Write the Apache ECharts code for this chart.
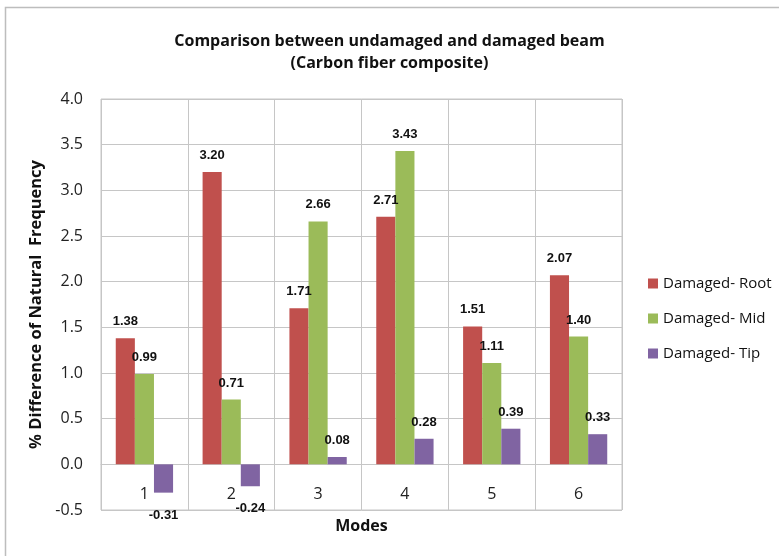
<!DOCTYPE html>
<html>
<head>
<meta charset="utf-8">
<title>Comparison between undamaged and damaged beam</title>
<script src="https://cdn.jsdelivr.net/npm/echarts@6/dist/echarts.min.js"></script>
<style>
  html, body { margin: 0; padding: 0; background: #ffffff; }
  #chart { width: 779px; height: 556px; }
</style>
</head>
<body>
<div id="chart"></div>
<script>
// Vibration modes on the category axis
const modes = ['1', '2', '3', '4', '5', '6'];

// Percentage difference of natural frequency for each damage location
const damagedRoot = [1.38, 3.20, 1.71, 2.71, 1.51, 2.07];
const damagedMid = [0.99, 0.71, 2.66, 3.43, 1.11, 1.40];
const damagedTip = [-0.31, -0.24, 0.08, 0.28, 0.39, 0.33];

// Value axis range and step
const yMin = -0.5;
const yMax = 4.0;
const yStep = 0.5;

const seriesNames = ['Damaged- Root', 'Damaged- Mid', 'Damaged- Tip'];
const seriesColors = ['#C0504D', '#9BBB59', '#8064A2'];

const gridColor = '#c6c6c6';
const baseFont = 'Open Sans';

// Value labels sit above positive bars and below negative ones
function withLabels(values) {
  return values.map(v => ({
    value: v,
    label: v < 0 ? { position: 'bottom', distance: 16 } : { position: 'top', distance: 10 }
  }));
}

function barSeries(name, values, color) {
  return {
    name: name,
    type: 'bar',
    data: withLabels(values),
    barGap: '0%',
    barCategoryGap: '34%',
    itemStyle: { color: color },
    label: {
      show: true,
      formatter: p => p.value.toFixed(2),
      fontFamily: 'Liberation Sans',
      fontWeight: 'bold',
      fontSize: 13,
      color: '#111111'
    }
  };
}

const chart = echarts.init(document.getElementById('chart'), null, { renderer: 'canvas' });

chart.setOption({
  backgroundColor: '#ffffff',
  animation: false,
  title: {
    text: 'Comparison between undamaged and damaged beam\n(Carbon fiber composite)',
    left: 'center',
    top: 25,
    textStyle: {
      fontFamily: baseFont,
      fontWeight: 'bold',
      fontSize: 16,
      lineHeight: 22,
      color: '#111111'
    }
  },
  legend: {
    orient: 'vertical',
    left: 643,
    top: 271,
    icon: 'rect',
    itemWidth: 10,
    itemHeight: 10,
    itemGap: 20,
    textStyle: {
      fontFamily: baseFont,
      fontSize: 15,
      lineHeight: 15,
      color: '#111111'
    },
    data: seriesNames
  },
  graphic: [
    {
      type: 'rect',
      shape: { x: 5.5, y: 7.5, width: 800, height: 600 },
      style: { fill: null, stroke: '#bdbdbd', lineWidth: 1.5 },
      silent: true,
      z: -1
    }
  ],
  grid: {
    left: 101,
    right: 157,
    top: 99,
    bottom: 46,
    outerBoundsMode: 'none',
    show: true,
    borderColor: gridColor,
    borderWidth: 1
  },
  xAxis: {
    type: 'category',
    data: modes,
    name: 'Modes',
    nameLocation: 'middle',
    nameGap: 8,
    nameTextStyle: {
      fontFamily: baseFont,
      fontWeight: 'bold',
      fontSize: 16,
      color: '#111111'
    },
    axisLine: { lineStyle: { color: gridColor, width: 1 } },
    axisTick: { show: false },
    // Mode numbers sit just under the zero line, inside the plot area
    axisLabel: {
      inside: true,
      margin: 8,
      fontFamily: baseFont,
      fontSize: 16,
      color: '#222222'
    },
    splitLine: { show: true, lineStyle: { color: gridColor, width: 1 } }
  },
  yAxis: {
    type: 'value',
    min: yMin,
    max: yMax,
    interval: yStep,
    name: '% Difference of Natural  Frequency',
    nameLocation: 'middle',
    nameRotate: 90,
    nameGap: 56,
    nameTextStyle: {
      fontFamily: baseFont,
      fontWeight: 'bold',
      fontSize: 16.5,
      color: '#111111'
    },
    axisLine: { show: false },
    axisTick: { show: false },
    axisLabel: {
      margin: 18,
      formatter: v => v.toFixed(1),
      fontFamily: baseFont,
      fontSize: 16,
      color: '#222222'
    },
    splitLine: { show: true, lineStyle: { color: gridColor, width: 1 } }
  },
  series: [
    barSeries(seriesNames[0], damagedRoot, seriesColors[0]),
    barSeries(seriesNames[1], damagedMid, seriesColors[1]),
    barSeries(seriesNames[2], damagedTip, seriesColors[2])
  ]
});
</script>
</body>
</html>
